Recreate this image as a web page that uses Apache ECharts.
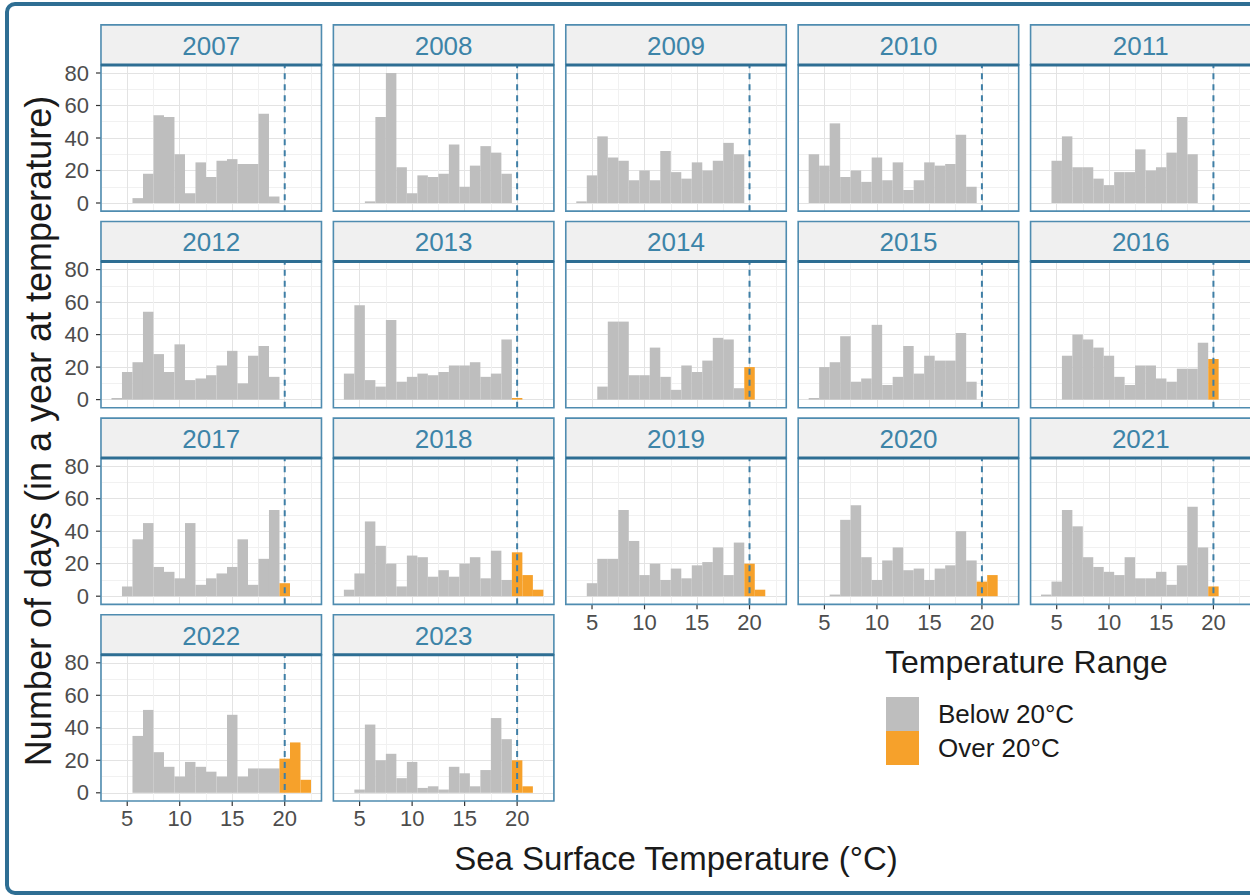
<!DOCTYPE html>
<html>
<head>
<meta charset="utf-8">
<script src="https://cdn.jsdelivr.net/npm/echarts@6/dist/echarts.min.js"></script>
<style>
html,body{margin:0;padding:0;background:#ffffff;}
#chart{width:1250px;height:896px;}
</style>
</head>
<body>
<div id="chart"></div>
<script>
// ---------------- data ----------------
const years = ['2007','2008','2009','2010','2011','2012','2013','2014','2015','2016','2017','2018','2019','2020','2021','2022','2023'];
// bin centres (°C), bins are 1 °C wide
const binTemps = [4,5,6,7,8,9,10,11,12,13,14,15,16,17,18,19,20,21,22];
const days2007 = [0,0,3,18,54,53,30,6,25,16,26,27,24,24,55,4,0,0,0];
const days2008 = [0,0,1,53,80,22,6,17,16,18,36,10,23,35,31,18,0,0,0];
const days2009 = [1,17,41,28,26,14,20,14,32,19,15,25,20,26,37,30,0,0,0];
const days2010 = [30,23,49,16,20,13,28,14,25,8,14,25,23,24,42,10,0,0,0];
const days2011 = [0,26,41,22,22,15,11,19,19,33,20,22,31,53,30,0,0,0,0];
const days2012 = [1,17,23,54,28,17,34,12,13,15,21,30,10,27,33,14,0,0,0];
const days2013 = [16,58,12,8,49,11,14,16,15,17,21,21,23,14,16,37,1,0,0];
const days2014 = [0,0,8,48,48,15,15,32,14,6,21,17,24,38,37,7,20,0,0];
const days2015 = [1,20,23,39,11,13,46,9,14,33,16,27,24,24,41,11,0,0,0];
const days2016 = [0,0,27,40,37,32,27,14,9,21,21,13,11,19,19,35,25,0,0];
const days2017 = [0,6,35,45,18,15,11,45,7,11,14,18,35,7,23,53,8,0,0];
const days2018 = [4,14,46,31,20,6,25,24,12,16,12,20,24,11,28,10,27,13,4];
const days2019 = [0,8,23,23,53,34,13,20,10,17,11,19,21,30,13,33,20,4,0];
const days2020 = [0,0,1,47,56,24,10,22,30,16,17,10,17,19,40,22,9,13,0];
const days2021 = [1,9,53,43,24,18,15,13,24,11,11,15,7,19,55,30,6,0,0];
const days2022 = [0,0,35,51,25,16,10,19,16,13,10,48,10,15,15,15,21,31,8];
const days2023 = [0,2,42,20,24,9,19,3,4,2,16,12,4,14,46,33,20,4,0];
const daysByYear = [days2007,days2008,days2009,days2010,days2011,days2012,days2013,days2014,days2015,
                    days2016,days2017,days2018,days2019,days2020,days2021,days2022,days2023];
const threshold = 20;
const yTickValues = [0,20,40,60,80];
const xTickValues = [5,10,15,20];
const legendNames = ['Below 20°C','Over 20°C'];
const yTitle = 'Number of days (in a year at temperature)';
const xTitle = 'Sea Surface Temperature (°C)';
const legendTitle = 'Temperature Range';

// ---------------- style / layout ----------------
const FONT = '"Liberation Sans", Arial, sans-serif';
const GREY = '#bebebe', ORANGE = '#f6a12b';
const BLUE = '#4f8cb0', DARKBLUE = '#2e6e93', STRIPTXT = '#3d84a8';
const NCOL = 5;
const colLeft0 = 101.5, colStep = 232.4, panelW = 219.5;
const zero0 = 203, rowStep = 196.6, pxPerUnit = 1.625;
const X_MIN = 2.5, X_MAX = 23.5, Y_MIN = -5, Y_MAX = 85;
const stripH = 40;

const grids = [], xAxes = [], yAxes = [], series = [], graphics = [];

function barRender(params, api) {
  const x = api.value(0), c = api.value(1);
  const p0 = api.coord([x - 0.5, 0]);
  const p1 = api.coord([x + 0.5, c]);
  return { type: 'rect', shape: { x: p0[0], y: p1[1], width: p1[0] - p0[0], height: p0[1] - p1[1] },
           style: api.style() };
}
function yTickRender(params, api) {
  const p = api.coord([X_MIN, api.value(0)]);
  return { type: 'line', shape: { x1: p[0] - 5, y1: p[1], x2: p[0], y2: p[1] },
           style: { stroke: '#333333', lineWidth: 1.2 } };
}
function xTickRender(params, api) {
  const p = api.coord([api.value(0), Y_MIN]);
  return { type: 'line', shape: { x1: p[0], y1: p[1], x2: p[0], y2: p[1] + 5 },
           style: { stroke: '#333333', lineWidth: 1.2 } };
}

years.forEach((yr, i) => {
  const r = Math.floor(i / NCOL), c = i % NCOL;
  const colLeft = colLeft0 + c * colStep;
  const zeroY = zero0 + r * rowStep;
  const top = zeroY - Y_MAX * pxPerUnit;
  const height = (Y_MAX - Y_MIN) * pxPerUnit;
  const left = colLeft - 0.05 * 10.5;
  const width = (X_MAX - X_MIN) * 10.5;
  const showY = c === 0;
  const showX = (i + NCOL) >= years.length;

  grids.push({ left: left, top: top, width: width, height: height, show: true,
               backgroundColor: '#ffffff', borderWidth: 0 });
  xAxes.push({ gridIndex: i, type: 'value', min: X_MIN, max: X_MAX, interval: 2.5,
    axisLine: { show: false }, axisTick: { show: false },
    axisLabel: { show: showX, fontFamily: FONT, fontSize: 22, color: '#4d4d4d', margin: 7,
      showMinLabel: false, showMaxLabel: false,
      formatter: v => (v % 5 === 0 ? String(v) : '') },
    splitLine: { show: true, lineStyle: { color: ['#f1f1f1', '#e3e3e3'], width: 1 } } });
  yAxes.push({ gridIndex: i, type: 'value', min: Y_MIN, max: Y_MAX, interval: 5,
    axisLine: { show: false }, axisTick: { show: false },
    axisLabel: { show: showY, fontFamily: FONT, fontSize: 22, color: '#4d4d4d', margin: 12,
      formatter: v => (v >= 0 && v % 20 === 0 ? String(v) : '') },
    splitLine: { show: true, lineStyle: { color: ['rgba(0,0,0,0)', '#e3e3e3', 'rgba(0,0,0,0)', '#f1f1f1'], width: 1 } } });

  const counts = daysByYear[i];
  const below = [], over = [];
  binTemps.forEach((t, j) => {
    if (counts[j] > 0) (t < threshold ? below : over).push([t, counts[j]]);
  });
  series.push({ name: legendNames[0], type: 'custom', xAxisIndex: i, yAxisIndex: i,
    renderItem: barRender, itemStyle: { color: GREY }, data: below, z: 2, silent: true });
  series.push({ name: legendNames[1], type: 'custom', xAxisIndex: i, yAxisIndex: i,
    renderItem: barRender, itemStyle: { color: ORANGE }, data: over, z: 2, silent: true });
  series.push({ type: 'line', xAxisIndex: i, yAxisIndex: i, symbol: 'none', silent: true, z: 3,
    lineStyle: { color: '#3f7fa6', width: 2, type: [6, 5] },
    data: [[threshold, Y_MIN], [threshold, Y_MAX]] });
  if (showY) series.push({ type: 'custom', xAxisIndex: i, yAxisIndex: i, renderItem: yTickRender,
    data: yTickValues.map(v => [v]), silent: true, z: 5 });
  if (showX) series.push({ type: 'custom', xAxisIndex: i, yAxisIndex: i, renderItem: xTickRender,
    data: xTickValues.map(v => [v]), silent: true, z: 5 });

  // panel border
  graphics.push({ type: 'rect', z: 100, silent: true,
    shape: { x: left, y: top, width: width, height: height },
    style: { fill: 'none', stroke: BLUE, lineWidth: 1.6 } });
  // strip
  graphics.push({ type: 'rect', z: 100, silent: true,
    shape: { x: left, y: top - stripH, width: width, height: stripH },
    style: { fill: '#f0f0f0', stroke: BLUE, lineWidth: 1.6 } });
  graphics.push({ type: 'line', z: 101, silent: true,
    shape: { x1: left, y1: top, x2: left + width, y2: top },
    style: { stroke: DARKBLUE, lineWidth: 3 } });
  graphics.push({ type: 'text', z: 102, silent: true, x: left + width / 2, y: top - stripH / 2 + 1,
    style: { text: yr, font: '26px ' + FONT, fill: STRIPTXT, align: 'center', verticalAlign: 'middle' } });
});

// titles
graphics.push({ type: 'text', z: 102, silent: true, x: 38, y: 431, rotation: Math.PI / 2,
  style: { text: yTitle, font: '36px ' + FONT, fill: '#1a1a1a', align: 'center', verticalAlign: 'middle' } });
graphics.push({ type: 'text', z: 102, silent: true, x: 676, y: 858,
  style: { text: xTitle, font: '33px ' + FONT, fill: '#1a1a1a', align: 'center', verticalAlign: 'middle' } });
graphics.push({ type: 'text', z: 102, silent: true, x: 885, y: 662,
  style: { text: legendTitle, font: '32px ' + FONT, fill: '#1a1a1a', align: 'left', verticalAlign: 'middle' } });
// outer frame
graphics.push({ type: 'rect', z: 110, silent: true,
  shape: { x: 7, y: 4, width: 1280, height: 889, r: 8 },
  style: { fill: 'none', stroke: DARKBLUE, lineWidth: 4 } });

const chart = echarts.init(document.getElementById('chart'), null, { renderer: 'svg' });
chart.setOption({
  animation: false,
  backgroundColor: '#ffffff',
  grid: grids,
  xAxis: xAxes,
  yAxis: yAxes,
  legend: {
    data: legendNames.map(n => ({ name: n, icon: 'rect' })),
    orient: 'vertical', left: 886, top: 697, padding: 0,
    itemWidth: 33, itemHeight: 34, itemGap: 0,
    selectedMode: false,
    textStyle: { fontFamily: FONT, fontSize: 26, color: '#1a1a1a', padding: [0, 0, 0, 14] }
  },
  series: series,
  graphic: graphics
});
</script>
</body>
</html>
